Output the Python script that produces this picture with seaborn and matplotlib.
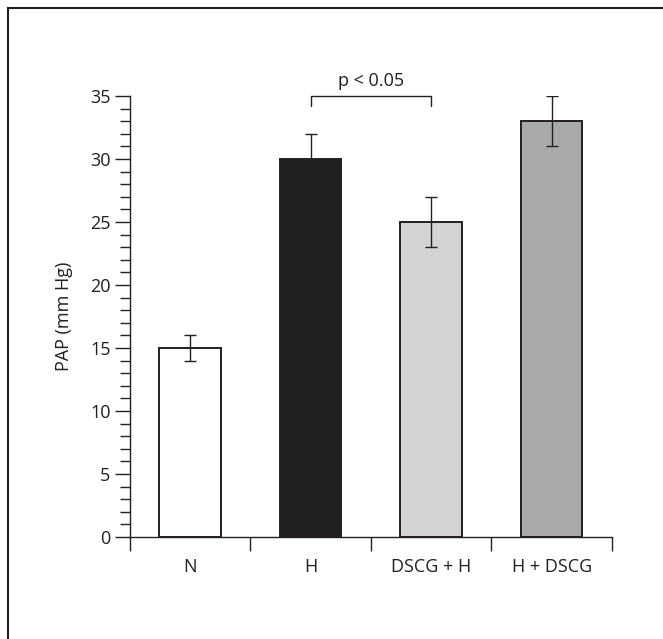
import numpy as np
import matplotlib
matplotlib.use("Agg")
import matplotlib.pyplot as plt
import seaborn as sns
from matplotlib.patches import Rectangle
from matplotlib.ticker import MultipleLocator, FixedLocator

groups = ["N", "H", "DSCG + H", "H + DSCG"]
means = [15, 30, 25, 33]
errs = [1, 2, 2, 2]
colors = ["#ffffff", "#231f20", "#d1d3d4", "#a7a9ac"]
sig_pair = (1, 2)
sig_label = "p < 0.05"

sns.set_style("ticks")
plt.rcParams['font.family'] = ['Open Sans', 'DejaVu Sans']
ink = "#231f20"
fs = 13

fig = plt.figure(figsize=(6.63, 6.39), dpi=100)
ax = fig.add_axes([0.196, 0.1596, 0.727, 0.6902])

sns.barplot(x=groups, y=means, hue=groups, palette=colors, width=0.51,
            edgecolor=ink, linewidth=1.4, legend=False, ax=ax, errorbar=None)
ax.errorbar(x=np.arange(len(groups)), y=means, yerr=errs, fmt='none',
            ecolor=ink, elinewidth=1, capsize=4, capthick=1)

ax.set_xlim(-0.5, 3.5)
ax.set_ylim(0, 35)
ax.yaxis.set_major_locator(MultipleLocator(5))
ax.yaxis.set_minor_locator(MultipleLocator(1))
ax.tick_params(axis='y', which='major', length=11, width=1, color=ink,
               labelsize=fs, labelcolor=ink, pad=3)
ax.tick_params(axis='y', which='minor', length=7, width=1, color=ink)

# category boundaries as ticks, labels sit under the bars
ax.xaxis.set_major_locator(FixedLocator([-0.5, 0.5, 1.5, 2.5, 3.5]))
ax.set_xticklabels([])
ax.xaxis.set_minor_locator(FixedLocator(range(len(groups))))
ax.set_xticks(range(len(groups)), groups, minor=True)
ax.tick_params(axis='x', which='major', length=10, width=1, color=ink)
ax.tick_params(axis='x', which='minor', length=0, labelsize=fs,
               labelcolor=ink, pad=15)

for s in ['left', 'bottom']:
    ax.spines[s].set_color(ink)
    ax.spines[s].set_linewidth(1)
sns.despine(ax=ax)

ax.set_xlabel("")
ax.set_ylabel("PAP (mm Hg)", fontsize=fs, color=ink, labelpad=12)

# significance bracket
x1, x2 = sig_pair
ax.plot([x1, x1, x2, x2], [34.2, 35, 35, 34.2], color=ink, lw=1, clip_on=False)
ax.text((x1 + x2) / 2, 35.5, sig_label, ha='center', va='bottom',
        fontsize=fs, color=ink)

# frame around figure
fig.add_artist(Rectangle((7.5 / 663, -0.1), 1.2, 1.1 - 7.5 / 639,
                         transform=fig.transFigure, fill=False,
                         edgecolor=ink, linewidth=1.5))

fig.savefig("out.png", dpi=100)
